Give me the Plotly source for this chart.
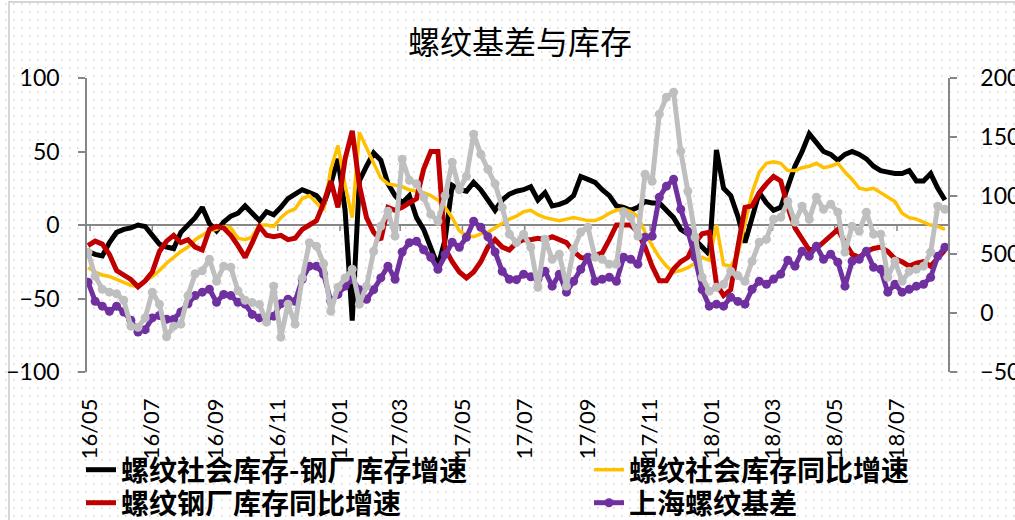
import pandas as pd
import plotly.graph_objects as go

# Weekly observations (Fridays), 2016-04-29 .. 2018-08-17
weeks = pd.date_range("2016-04-29", periods=121, freq="7D")

# 螺纹社会库存-钢厂库存增速 (%)
spread_growth = [
    -18, -20, -21, -12, -5, -3, -2, 0, -1, -7,
    -13, -15, -16, -5, 0, 5, 12, 1, -4, 2,
    6, 8, 13, 8, 3, 9, 7, 12, 18, 21,
    24, 22, 20, 14, 28, 45, 10, -65, 30, 40,
    49, 44, 28, 20, 15, 20, 5, -3, -15, -28,
    -10, 27, 24, 23, 29, 24, 17, 10, 17, 21,
    23, 24, 26, 17, 22, 13, 14, 16, 20, 33,
    31, 29, 24, 20, 13, 12, 10, 12, 16, 15,
    15, 10, 5, -3, -6, -10, -15, -20, 51, 25,
    20, 6, -12, 5, 22, 15, 10, 12, 26, 40,
    50, 62, 56, 50, 48, 44, 48, 50, 48, 45,
    40, 37, 36, 35, 35, 37, 30, 30, 35, 25,
    17,
]

# 螺纹社会库存同比增速 (%)
social_yoy = [
    -29, -32, -34, -35, -37, -39, -41, -42, -38, -35,
    -31, -26, -22, -18, -15, -10, -7, -4, -3, -1,
    -2, -9, -10, -8, 0, 0, -1, 5, 9, 11,
    18, 20, 15, 10, 38, 54, 27, 5, 63, 52,
    42, 32, 28, 27, 26, 24, 23, 22, 20, 17,
    12, 5, -4, -7, -8, -6, -5, -2, 1, 4,
    6, 9, 10, 7, 5, 4, 3, 4, 5, 4,
    3, 3, 5, 8, 10, 11, 9, 6, -5, -14,
    -22, -28, -32, -31, -29, -26, -22, -24, 0, -27,
    -28, -20, 2, 22, 36, 42, 43, 42, 37, 37,
    39, 40, 42, 39, 40, 42, 36, 31, 25, 24,
    25, 22, 19, 16, 8, 5, 4, 2, 0, -1,
    -3,
]

# 螺纹钢厂库存同比增速 (%)
mill_yoy = [
    -14, -11, -13, -20, -31, -34, -37, -42, -38, -32,
    -18, -11, -7, -12, -10, -15, -17, -3, -1, -2,
    -7, -14, -22, -12, -1, -7, -8, -7, -10, -9,
    -3, 0, 3, 15, 30, 12, 45, 64, 27, 5,
    -5, -10, 12, 10, 12, 15, 18, 38, 50, 50,
    -16, -25, -32, -36, -32, -25, -15, -10, -15, -17,
    -12, -10, -10, -9, -10, -8, -10, -12, -18, -22,
    -23, -21, -19, -10, 0, 0, 0, -5, -15, -28,
    -38, -38, -30, -25, -22, -12, -6, -5, -40, -48,
    -44, -15, 12, 13, 22, 28, 33, 30, 12, -2,
    -10, -17, -16, -12, -8, -3, -12, -20, -22, -18,
    -16, -15, -18, -23, -25, -28, -26, -25, -28, -22,
    -17,
]

# 上海螺纹基差 (元/吨)
sh_basis = [
    264, 102, 60, 17, 60, 10, -60, -160, -140, -40,
    -20, -51, -51, 10, 80, 150, 179, 204, 93, 160,
    150, 93, 77, -10, -40, -51, -25, 80, 119, 102,
    289, 400, 400, 330, 102, 160, 230, 290, 200, 119,
    200, 300, 400, 289, 520, 600, 612, 540, 476, 374,
    500, 604, 561, 646, 782, 731, 650, 520, 357, 289,
    285, 332, 310, 289, 357, 230, 332, 179, 272, 374,
    476, 272, 289, 306, 272, 476, 459, 417, 646, 655,
    986, 1080, 1139, 884, 697, 476, 200, 60, 77, 60,
    136, 100, 77, 204, 272, 246, 290, 332, 450, 400,
    527, 485, 570, 459, 502, 434, 230, 442, 459, 527,
    391, 374, 179, 246, 179, 204, 230, 246, 306, 485,
    561,
]

# 基差 (未列入图例, 元/吨)
basis_other = [
    518, 315, 204, 179, 165, 110, -110, -120, -40, 179,
    77, -200, -110, -93, 150, 335, 360, 459, 272, 400,
    391, 190, 110, 90, 75, -76, 230, -204, 77, -93,
    300, 600, 570, 420, 17, 221, 300, 374, 77, 230,
    527, 740, 867, 655, 1309, 1130, 1100, 986, 842, 782,
    1000, 1284, 1050, 1165, 1522, 1352, 1224, 1100, 900, 672,
    600, 672, 561, 221, 629, 459, 502, 230, 544, 690,
    731, 476, 459, 417, 417, 859, 816, 655, 1182, 1122,
    1692, 1836, 1879, 1377, 1037, 646, 306, 187, 221, 246,
    357, 320, 272, 442, 604, 629, 799, 816, 950, 774,
    910, 799, 986, 884, 927, 859, 519, 740, 697, 859,
    672, 672, 306, 442, 272, 357, 374, 400, 519, 910,
    884,
]

W, H = 1015, 520
L, R, T, B = 87, 948, 78, 372          # plot area in pixels
PW, PH = R - L, B - T


def px_x(x):
    return (x - L) / PW


def px_y(y):
    return (B - y) / PH


fig = go.Figure()

fig.add_trace(go.Scatter(
    x=weeks, y=spread_growth, name="螺纹社会库存-钢厂库存增速",
    mode="lines", line=dict(color="#000000", width=5), legend="legend",
))
fig.add_trace(go.Scatter(
    x=weeks, y=social_yoy, name="螺纹社会库存同比增速",
    mode="lines", line=dict(color="#FFC000", width=3.5), legend="legend2",
))
fig.add_trace(go.Scatter(
    x=weeks, y=mill_yoy, name="螺纹钢厂库存同比增速",
    mode="lines", line=dict(color="#C00000", width=5), legend="legend3",
))
fig.add_trace(go.Scatter(
    x=weeks, y=sh_basis, name="上海螺纹基差", yaxis="y2",
    mode="lines+markers", line=dict(color="#7030A0", width=5),
    marker=dict(size=9, color="#7030A0"), legend="legend4",
))
fig.add_trace(go.Scatter(
    x=weeks, y=basis_other, name="基差", yaxis="y2", showlegend=False,
    mode="lines+markers", line=dict(color="#BFBFBF", width=5),
    marker=dict(size=9, color="#BFBFBF"),
))

# dotted paper texture and outer chart border
shapes = []
for k in range(66):
    y = 4 + 8 * k
    shapes.append(dict(
        type="line", xref="paper", yref="paper", layer="below",
        x0=px_x(-3), x1=px_x(W + 8), y0=px_y(y), y1=px_y(y),
        line=dict(color="#d4d4d4", width=1.6, dash="1.6px,6.4px"),
    ))
shapes.append(dict(
    type="rect", xref="paper", yref="paper", layer="below",
    x0=px_x(9), x1=px_x(W + 20), y0=px_y(2), y1=px_y(H + 20),
    line=dict(color="#d6d6d6", width=2), fillcolor="rgba(0,0,0,0)",
))

axis_grey = "#868686"

# small category ticks hanging from the zero line every two months
for d in pd.date_range("2016-05-01", "2018-07-01", freq="2MS"):
    shapes.append(dict(
        type="line", xref="x", yref="y", layer="below",
        x0=d, x1=d, y0=0, y1=-4,
        line=dict(color=axis_grey, width=1.5),
    ))

tick_font = dict(family="Lato, 'Open Sans', sans-serif", size=23, color="#000000")
legend_font = dict(family="'Noto Sans CJK SC', sans-serif", size=28,
                   color="#000000", weight="bold")


def legend_box(x_px, y_px):
    return dict(
        orientation="h", xref="container", yref="container",
        x=x_px / W, xanchor="left", y=1 - y_px / H, yanchor="middle",
        font=legend_font, bgcolor="rgba(0,0,0,0)", borderwidth=0,
    )


fig.update_layout(
    width=W, height=H,
    margin=dict(l=L, r=W - R, t=T, b=H - B, pad=0, autoexpand=False),
    paper_bgcolor="#ffffff", plot_bgcolor="rgba(0,0,0,0)",
    shapes=shapes,
    title=dict(
        text="螺纹基差与库存", x=520 / W, xanchor="center",
        y=1 - 43 / H, yanchor="middle", xref="container", yref="container",
        font=dict(family="'Noto Sans CJK SC', sans-serif", size=32, color="#000000"),
    ),
    xaxis=dict(
        type="date", range=["2016-04-28", "2018-08-20"],
        tick0="2016-05-01", dtick="M2", tickformat="%y/%m", tickangle=-90,
        ticks="", showgrid=False, showline=False, zeroline=False,
        tickfont=dict(tick_font, size=22), ticklabelstandoff=21,
        automargin=False,
    ),
    yaxis=dict(
        range=[-100, 100], dtick=50, ticks="outside", ticklen=7,
        tickcolor=axis_grey, tickwidth=1.5, showline=True, linecolor=axis_grey,
        linewidth=1.5, showgrid=False, zeroline=True, zerolinecolor=axis_grey,
        zerolinewidth=1.5, tickfont=tick_font, ticklabelstandoff=14,
        automargin=False,
    ),
    yaxis2=dict(
        range=[-500, 2000], dtick=500, overlaying="y", side="right",
        ticks="outside", ticklen=7, tickcolor=axis_grey, tickwidth=1.5,
        showline=True, linecolor=axis_grey, linewidth=1.5, showgrid=False,
        zeroline=False, tickfont=tick_font, ticklabelstandoff=19,
        automargin=False,
    ),
    legend=legend_box(81, 470),
    legend2=legend_box(589, 470),
    legend3=legend_box(81, 503),
    legend4=legend_box(589, 503),
    showlegend=True,
)

fig.write_html("out.html")
